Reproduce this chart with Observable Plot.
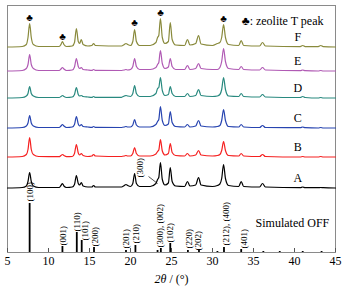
<!DOCTYPE html>
<html><head><meta charset="utf-8">
<script src="https://cdn.jsdelivr.net/npm/d3@7"></script>
<script src="https://cdn.jsdelivr.net/npm/@observablehq/plot@0.6"></script>
<style>body{margin:0;background:#fff}</style>
</head><body><div id="chart"></div>
<script>
const xs = [5.0,6.8,7.3,7.5,7.7,7.9,8.15,8.8,
 11.3,11.52,11.7,11.88,12.2,
 12.9,13.17,13.4,13.63,13.8,14.0,14.22,14.8,
 15.28,15.5,15.72,
 18.9,19.25,19.45,19.65,
 20.0,20.28,20.5,20.72,21.1,
 22.4,23.1,23.3,23.45,23.65,23.88,24.2,24.62,24.85,25.08,25.5,
 26.6,26.95,27.25,27.95,28.3,28.6,
 30.0,30.6,30.9,31.12,31.35,31.58,31.95,
 33.2,33.5,33.8,
 35.75,36.1,36.45,
 40.7,41.0,41.3,
 42.9,43.2,43.5,
 45.0];
const yA = [0.5,1,2.5,7,16,7,2.5,1, 1,3,5,2.5,1, 1.5,4,13,5,3.5,6,2.5,1.5, 1.5,3,1.5, 1.5,3,4,3, 2,5,15,5,2, 2,5,9,11,26,9,3.5,5.5,21,7,2.5, 2,7,2.5,3.5,11,3.5, 2,3,4.5,10,24,10,3, 2,7,2, 1.5,5,1.5, 0.8,1.5,0.8, 0.8,1,0.8, 0.5];
const yB = [0.5,1,3,8,20,8,3,1, 0.8,2,3,2,0.8, 1,4,13,4.5,2.5,4,2,1, 1.5,3,1.5, 1,1.5,2,1.5, 1.5,4,10,4,1.5, 1.5,3.5,6,7.5,18,6.5,2.5,4,14,5,2, 1.5,4,1.5,2.5,7,2.5, 1.5,2,3,7,16,7,2, 1.5,4,1.5, 1,3,1, 0.5,1,0.5, 0.5,1,0.5, 0.5];
const yC = [0.5,1,2.5,5.5,13,5.5,2.5,1, 1,2.5,4,2.5,1, 1.5,4,12,4.5,2.5,4,2,1.5, 1.2,2,1.2, 1,1.5,2,1.5, 1.5,3.5,9,3.5,1.5, 1.5,4,7,9,22,8,3,4.5,17,6,2, 1.5,4,1.5,2.5,8,2.5, 1.5,2,3,8,19,8,2, 1.5,4,1.5, 1,3,1, 0.8,1.5,0.8, 0.5,1,0.5, 0.5];
const yD = [0.5,1,2.5,5,12,5,2.5,1, 1,2,3,2,1, 1.5,4,11,4,2.5,3,2,1.5, 1.2,2,1.2, 1.2,2.5,3,2.5, 2,5,13,5,2, 2,5,10,11,21,8,3,4,12,5,2, 2,5,2,3,9,3, 2,2.5,4,9,21,9,2.5, 2,5,2, 1.5,4,1.5, 1,2,1, 0.5,1,0.5, 0.5];
const yE = [0.5,1,3,7,17,7,3,1, 1,2.5,4,2.5,1, 1.5,4.5,13,5,3,4,2,1.5, 1.2,2,1.2, 1,1.5,2,1.5, 2,5,13,5,2, 2,4,7,9,21,8,3,4.5,13,5,2, 2,6,2,3,8,3, 2,2,4,10,23,10,3, 2,5,2, 1.5,4,1.5, 0.8,1.5,0.8, 0.5,1,0.5, 0.5];
const yF = [0.5,1,3,10,24,10,3,1, 1,3,6,3,1, 1.5,5,19,6,4,8,3,1.5, 2,4,2, 1.5,3,4,3, 2,6,18,6,2, 2,5,10,12,29,10,4,6,25,8,2.5, 2,8,2.5,4,12,3.5, 2,4,5,10,23,10,3, 2,7,2, 1.5,5,1.5, 0.8,2,0.8, 0.8,2,0.8, 0.5];

const sampleNames = ["A","B","C","D","E","F"];
const sampleOffsets = [64,95,124,154,181,205];
const sampleColors = ["#000000","#f52020","#2744b0","#28897f","#b05ab4","#898a3c"];
const sampleSeries = [yA,yB,yC,yD,yE,yF];

const stickX = [7.7,11.7,13.45,14.05,15.55,19.45,20.6,23.3,23.7,24.85,27.0,28.35,30.6,31.4,33.5,36.2,38.2,41.0,43.3];
const stickH = [49,6,20,12,5,2,7,2,4,9,2,3,1,5,3,1,1,1,1];

const hklText = ["(100)","(001)","(110)","(101)","(200)","(201)","(210)","(300), (002)","(102)","(220)","(202)","(212), (400)","(401)"];
const hklX = [7.75,11.75,13.45,14.5,15.65,19.5,20.7,23.65,24.85,27.1,28.2,31.6,33.8];
const hklY = [51,7,21,12,6,4,9,5,10,4,2,7,4];

const clubX = [7.7,11.7,20.5,23.65,31.35];
const clubRel = [30,11,25,35,29];

const xTicks = [5,10,15,20,25,30,35,40,45];

const rows = [];
sampleNames.forEach((s,i)=>xs.forEach((x,j)=>rows.push({x, y: sampleSeries[i][j] + sampleOffsets[i], s})));
const sampleLabels = sampleNames.map((s,i)=>({s, x:40.4, y: sampleOffsets[i] + 10}));
const sticks = stickX.map((x,i)=>({x, h: stickH[i]}));
const hkl = hklText.map((t,i)=>({t, x: hklX[i], y: hklY[i]}));
const clubs = clubX.map((x,i)=>({x, y: sampleOffsets[5] + clubRel[i]}));

const font = "'Liberation Serif','Times New Roman',serif";
const chart = Plot.plot({
  width: 352, height: 287,
  marginLeft: 7, marginRight: 17, marginTop: 5, marginBottom: 35,
  style: {fontFamily: font, fontSize: "12px", color: "#000", background: "#fff"},
  x: {domain: [5,45]},
  y: {domain: [0,247], axis: null},
  color: {domain: sampleNames, range: sampleColors},
  marks: [
    Plot.frame({stroke: "#8a8a8a"}),
    Plot.ruleX(xTicks, {insetTop: 243, stroke: "#555"}),
    Plot.axisX({ticks: xTicks, tickSize: 0, tickPadding: 4, fontSize: 12, label: "2θ / (°)", labelAnchor: "center", labelOffset: 30, labelArrow: "none"}),
    Plot.line(rows, {x: "x", y: "y", z: "s", stroke: "s", strokeWidth: 1.2, curve: "monotone-x"}),
    Plot.ruleX(sticks, {x: "x", y1: 0, y2: "h", stroke: "#000", strokeWidth: 1.8}),
    Plot.text(hkl, {x: "x", y: "y", text: "t", rotate: -90, textAnchor: "start", fontSize: 9, fill: "#000"}),
    Plot.text(sampleLabels, {x: "x", y: "y", text: "s", fontSize: 12, fill: "#000"}),
    Plot.text(["Simulated OFF"], {x: 39.75, y: 29, text: d=>d, fontSize: 12, fill: "#000"}),
    Plot.text(["(300)"], {x: 21.2, y: 75, text: d=>d, rotate: -90, textAnchor: "start", fontSize: 9, fill: "#000"}),
    Plot.link([{x1: 22.2, y1: 76, x2: 23.3, y2: 69}], {x1: "x1", y1: "y1", x2: "x2", y2: "y2", stroke: "#000", strokeWidth: 0.7}),
    Plot.text(clubs, {x: "x", y: "y", text: d=>"♣", fontSize: 10, fill: "#000"}),
    Plot.text(["♣: zeolite T peak"], {frameAnchor: "top-right", dx: -12, dy: 11, textAnchor: "end", text: d=>d, fontSize: 12, fill: "#000"})
  ]
});
document.getElementById("chart").appendChild(chart);
chart.querySelectorAll("text").forEach(t=>{
  if (t.textContent.includes("2θ")) {
    t.textContent = "";
    const ns = "http://www.w3.org/2000/svg";
    const a = document.createElementNS(ns,"tspan"); a.setAttribute("font-style","italic"); a.textContent = "2θ";
    const b = document.createElementNS(ns,"tspan"); b.textContent = " / (°)";
    t.appendChild(a); t.appendChild(b);
  }
});
</script></body></html>
